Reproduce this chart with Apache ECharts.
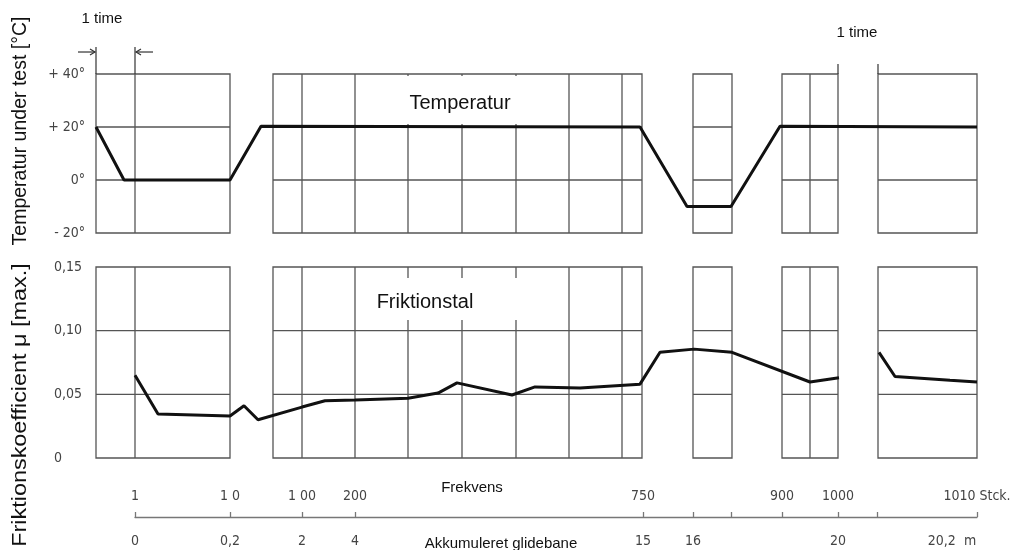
<!DOCTYPE html>
<html><head><meta charset="utf-8">
<script src="https://cdn.jsdelivr.net/npm/echarts@6/dist/echarts.min.js"></script>
<style>html,body{margin:0;padding:0;background:#fff}#c{width:1022px;height:550px}</style>
</head><body><div id="c"></div>
<script>
// horizontal positions are in schematic units along the broken test-sequence axis
const boxes = [[0,134],[177,546],[597,636],[686,742],[782,881]];
const boxInner = [[39],[206,259,312,366,420,473,526],[],[714],[]];
const tempTicks = [-20,0,20,40];
const tempLabels = ['- 20°','0°','+ 20°','+ 40°'];
const fricTicks = [0,0.05,0.10,0.15];
const fricLabels = ['0','0,05','0,10','0,15'];
const tempX = [0,28,134,165,544,591,635,684,881];
const tempY = [20,0,0,20.3,20,-10,-10,20.3,20];
const fricX = [39,62,134,148,162,206,229,259,312,342,361,416,439,484,544,564,598,636,714,743,762,783,799,854,881];
const fricY = [0.065,0.0345,0.033,0.041,0.030,0.040,0.045,0.0456,0.047,0.051,0.059,0.0495,0.0558,0.055,0.058,0.083,0.0855,0.083,0.0597,0.063,null,0.083,0.064,0.061,0.0597];
const tickPos = [39,134,206,259,547,597,635,686,742,781,881];
const freqLabels = ['1','1 0','1 00','200','750','','','900','1000','','1010 Stck.'];
const distLabels = ['0','0,2','2','4','15','16','','','20','','20,2  m'];
const onceLines1 = [0,39];     // "1 time" markers, first block
const onceLines2 = [742,782];  // "1 time" markers, later block

const gridColor = '#555';
const numFont = "'Liberation Sans Narrow','DejaVu Sans Condensed','Roboto Condensed',sans-serif";

function boxRenderer(ticks){
  return function(params, api){
    const i = params.dataIndex;
    const x0 = api.value(0), x1 = api.value(1);
    const ymin = ticks[0], ymax = ticks[ticks.length-1];
    const style = {stroke:gridColor, lineWidth:1.3, fill:null};
    const ch = [];
    const a = api.coord([x0,ymax]), b = api.coord([x1,ymin]);
    ch.push({type:'rect', shape:{x:a[0],y:a[1],width:b[0]-a[0],height:b[1]-a[1]}, style});
    ticks.slice(1,-1).forEach(t=>{
      const p=api.coord([x0,t]), q=api.coord([x1,t]);
      ch.push({type:'line', shape:{x1:p[0],y1:p[1],x2:q[0],y2:q[1]}, style});
    });
    boxInner[i].forEach(v=>{
      const p=api.coord([v,ymax]), q=api.coord([v,ymin]);
      ch.push({type:'line', shape:{x1:p[0],y1:p[1],x2:q[0],y2:q[1]}, style});
    });
    return {type:'group', children:ch};
  };
}

function markRenderer(params, api){
  const st = {stroke:'#333', lineWidth:1.2, fill:null};
  const ch = [];
  const vline = (x, top) => { const p=api.coord([x,40]), q=api.coord([x,top]); ch.push({type:'line',shape:{x1:p[0],y1:p[1],x2:q[0],y2:q[1]},style:st}); };
  onceLines1.forEach(x=>vline(x,50.2));
  onceLines2.forEach(x=>vline(x,43.8));
  // arrows pointing inwards to first marker pair
  const yA = 48.3;
  const l0 = api.coord([-18,yA]), l1 = api.coord([0,yA]);
  const r0 = api.coord([57,yA]), r1 = api.coord([39,yA]);
  ch.push({type:'line',shape:{x1:l0[0],y1:l0[1],x2:l1[0]-1,y2:l1[1]},style:st});
  ch.push({type:'polyline',shape:{points:[[l1[0]-6,l1[1]-3],[l1[0]-1,l1[1]],[l1[0]-6,l1[1]+3]]},style:st});
  ch.push({type:'line',shape:{x1:r0[0],y1:r0[1],x2:r1[0]+1,y2:r1[1]},style:st});
  ch.push({type:'polyline',shape:{points:[[r1[0]+6,r1[1]-3],[r1[0]+1,r1[1]],[r1[0]+6,r1[1]+3]]},style:st});
  return {type:'group', children:ch};
}

const chart = echarts.init(document.getElementById('c'), null, {renderer:'canvas'});
const titleFont = "'Liberation Sans',Arial,sans-serif";
chart.setOption({
  animation:false,
  backgroundColor:'#fff',
  textStyle:{fontFamily:titleFont},
  grid:[
    {left:96, width:881, top:74, height:159},
    {left:96, width:881, top:267, height:191},
    {left:135, width:842, top:516, height:1}
  ],
  xAxis:[
    {gridIndex:0, type:'value', min:0, max:881, show:false},
    {gridIndex:1, type:'value', min:0, max:881, show:false},
    {gridIndex:2, type:'value', min:39, max:881, position:'bottom',
      axisLine:{show:true, lineStyle:{color:'#777', width:1.3}},
      axisTick:{show:true, inside:true, length:5, customValues:tickPos, lineStyle:{color:'#777', width:1.3}},
      splitLine:{show:false},
      axisLabel:{show:true, customValues:tickPos.filter((v,i)=>distLabels[i]!==''), margin:17,
        color:'#444', fontFamily:numFont, fontSize:14,
        formatter:v=>{const s=distLabels[tickPos.indexOf(v)]; return s.indexOf('m')>=0 ? '{t|'+s+'}{p| }' : s;},
        rich:{t:{color:'#444', fontFamily:numFont, fontSize:14}, p:{width:50}}}},
    {gridIndex:2, type:'value', min:39, max:881, position:'top',
      axisLine:{show:false}, axisTick:{show:false}, splitLine:{show:false},
      axisLabel:{show:true, customValues:tickPos.filter((v,i)=>freqLabels[i]!==''), margin:13,
        color:'#444', fontFamily:numFont, fontSize:14,
        formatter:v=>freqLabels[tickPos.indexOf(v)]}}
  ],
  yAxis:[
    {gridIndex:0, type:'value', min:-20, max:40, interval:20,
      axisLine:{show:false}, axisTick:{show:false}, splitLine:{show:false},
      axisLabel:{margin:11, color:'#444', fontFamily:numFont, fontSize:14,
        formatter:v=>tempLabels[tempTicks.indexOf(v)]}},
    {gridIndex:1, type:'value', min:0, max:0.15, interval:0.05,
      axisLine:{show:false}, axisTick:{show:false}, splitLine:{show:false},
      axisLabel:{margin:42, align:'left', color:'#444', fontFamily:numFont, fontSize:14,
        formatter:v=>fricLabels[Math.round(v*20)]}},
    {gridIndex:2, type:'value', show:false}
  ],
  series:[
    {type:'custom', xAxisIndex:0, yAxisIndex:0, renderItem:boxRenderer(tempTicks), data:boxes, z:1, silent:true},
    {type:'custom', xAxisIndex:1, yAxisIndex:1, renderItem:boxRenderer(fricTicks), data:boxes, z:1, silent:true},
    {type:'custom', xAxisIndex:0, yAxisIndex:0, renderItem:markRenderer, data:[[0,40]], z:1, silent:true, clip:false},
    {type:'line', xAxisIndex:0, yAxisIndex:0, data:tempX.map((x,i)=>[x,tempY[i]]), symbol:'none',
      lineStyle:{color:'#111', width:3}, z:3},
    {type:'line', xAxisIndex:1, yAxisIndex:1, data:fricX.map((x,i)=>[x,fricY[i]]), symbol:'none', connectNulls:false,
      lineStyle:{color:'#111', width:3}, z:3}
  ],
  graphic:[
    {type:'rect', shape:{x:358,y:76,width:188,height:48}, style:{fill:'#fff'}, z:10},
    {type:'text', x:460, y:103, z:11, style:{text:'Temperatur', font:"20px 'Liberation Sans',Arial,sans-serif", fill:'#111', textAlign:'center', textVerticalAlign:'middle'}},
    {type:'rect', shape:{x:358,y:278,width:188,height:42}, style:{fill:'#fff'}, z:10},
    {type:'text', x:425, y:302, z:11, style:{text:'Friktionstal', font:"20px 'Liberation Sans',Arial,sans-serif", fill:'#111', textAlign:'center', textVerticalAlign:'middle'}},
    {type:'text', x:102, y:19, z:11, style:{text:'1 time', font:"15px 'Liberation Sans',Arial,sans-serif", fill:'#111', textAlign:'center', textVerticalAlign:'middle'}},
    {type:'text', x:857, y:33, z:11, style:{text:'1 time', font:"15px 'Liberation Sans',Arial,sans-serif", fill:'#111', textAlign:'center', textVerticalAlign:'middle'}},
    {type:'text', x:472, y:488, z:11, style:{text:'Frekvens', font:"15px 'Liberation Sans',Arial,sans-serif", fill:'#111', textAlign:'center', textVerticalAlign:'middle'}},
    {type:'text', x:501, y:544, z:11, style:{text:'Akkumuleret glidebane', font:"15px 'Liberation Sans',Arial,sans-serif", fill:'#111', textAlign:'center', textVerticalAlign:'middle'}},
    {type:'text', x:21, y:131, rotation:Math.PI/2, z:11, style:{text:'Temperatur under test [°C]', font:"19.5px 'Liberation Sans',Arial,sans-serif", fill:'#111', textAlign:'center', textVerticalAlign:'middle'}},
    {type:'text', x:21, y:405, rotation:Math.PI/2, scaleX:1.2, z:11, style:{text:'Friktionskoefficient μ [max.]', font:"19.5px 'Liberation Sans',Arial,sans-serif", fill:'#111', textAlign:'center', textVerticalAlign:'middle'}}
  ]
});
</script></body></html>
